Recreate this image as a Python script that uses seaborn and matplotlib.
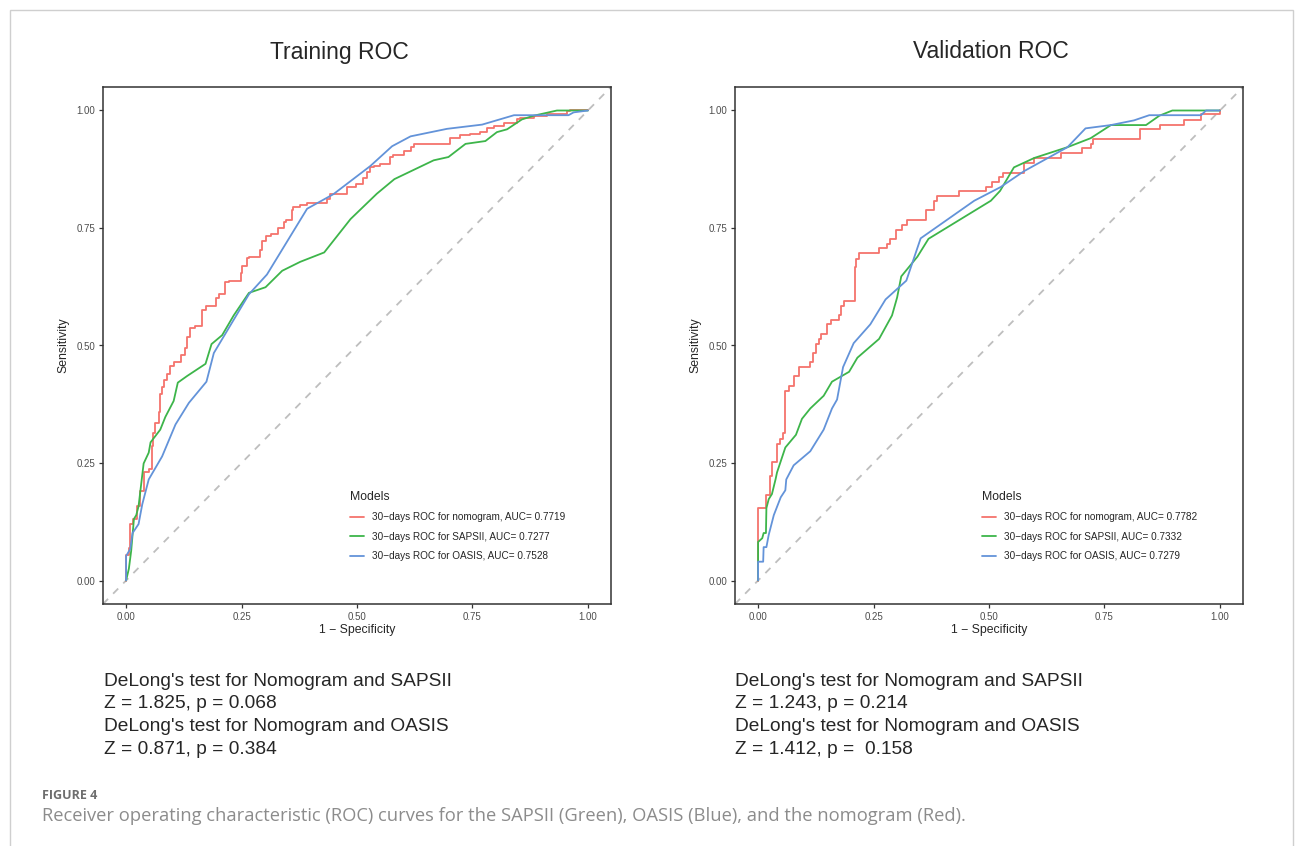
import numpy as np
import pandas as pd
import matplotlib
matplotlib.use("Agg")
import matplotlib.pyplot as plt
import seaborn as sns
from matplotlib.patches import Rectangle

# ---- data ----
models = ["nomogram", "SAPSII", "OASIS"]
train_auc = ["0.7719", "0.7277", "0.7528"]
val_auc = ["0.7782", "0.7332", "0.7279"]

# training, nomogram (stepwise curve)
train_nomogram_fpr = [0, 0.006, 0.009, 0.014, 0.024, 0.031, 0.038, 0.049, 0.056, 0.058,
                      0.063, 0.071, 0.074, 0.077, 0.082, 0.089, 0.096, 0.103, 0.118, 0.128,
                      0.132, 0.139, 0.150, 0.165, 0.174, 0.194, 0.201, 0.215, 0.222, 0.248,
                      0.251, 0.262, 0.266, 0.291, 0.294, 0.303, 0.314, 0.330, 0.341, 0.346,
                      0.359, 0.362, 0.377, 0.392, 0.436, 0.442, 0.457, 0.478, 0.497, 0.514,
                      0.522, 0.529, 0.536, 0.550, 0.572, 0.579, 0.601, 0.616, 0.623, 0.644,
                      0.702, 0.724, 0.745, 0.767, 0.781, 0.796, 0.818, 0.847, 0.854, 0.883,
                      0.911, 0.955, 0.962, 1.0]
train_nomogram_tpr = [0, 0.055, 0.070, 0.120, 0.130, 0.158, 0.190, 0.230, 0.237, 0.287,
                      0.313, 0.336, 0.359, 0.397, 0.412, 0.427, 0.439, 0.457, 0.465, 0.480,
                      0.495, 0.518, 0.537, 0.541, 0.575, 0.583, 0.602, 0.609, 0.636, 0.637,
                      0.655, 0.670, 0.687, 0.689, 0.704, 0.723, 0.733, 0.738, 0.750, 0.763,
                      0.766, 0.788, 0.795, 0.799, 0.803, 0.811, 0.822, 0.823, 0.837, 0.844,
                      0.856, 0.869, 0.879, 0.882, 0.886, 0.902, 0.905, 0.913, 0.922, 0.928,
                      0.929, 0.941, 0.947, 0.951, 0.955, 0.962, 0.966, 0.973, 0.981, 0.985,
                      0.989, 0.992, 0.998, 1.0]

train_sapsii_fpr = [0, 0.006, 0.011, 0.017, 0.022, 0.027, 0.038, 0.049, 0.053, 0.074,
                    0.085, 0.103, 0.112, 0.132, 0.172, 0.185, 0.208, 0.233, 0.266, 0.302,
                    0.338, 0.377, 0.429, 0.486, 0.543, 0.581, 0.666, 0.698, 0.735, 0.778,
                    0.803, 0.825, 0.857, 0.883, 0.933, 1.0]
train_sapsii_tpr = [0, 0.025, 0.063, 0.131, 0.139, 0.158, 0.249, 0.272, 0.294, 0.321,
                    0.348, 0.382, 0.421, 0.435, 0.461, 0.503, 0.522, 0.564, 0.612, 0.624,
                    0.659, 0.678, 0.698, 0.769, 0.823, 0.854, 0.894, 0.901, 0.929, 0.935,
                    0.954, 0.960, 0.981, 0.989, 1.0, 1.0]

train_oasis_fpr = [0, 0, 0.009, 0.014, 0.027, 0.035, 0.049, 0.078, 0.107, 0.136,
                   0.174, 0.190, 0.266, 0.305, 0.392, 0.449, 0.529, 0.576, 0.616, 0.695,
                   0.771, 0.840, 0.958, 0.969, 1.0]
train_oasis_tpr = [0, 0.052, 0.067, 0.101, 0.120, 0.162, 0.215, 0.264, 0.332, 0.378,
                   0.423, 0.484, 0.609, 0.651, 0.791, 0.822, 0.882, 0.924, 0.945, 0.961,
                   0.970, 0.990, 0.990, 0.996, 1.0]

# validation
val_nomogram_fpr = [0, 0.017, 0.025, 0.030, 0.041, 0.047, 0.054, 0.059, 0.067, 0.077,
                    0.088, 0.113, 0.119, 0.126, 0.132, 0.137, 0.150, 0.157, 0.175, 0.179,
                    0.186, 0.209, 0.213, 0.218, 0.262, 0.280, 0.285, 0.298, 0.312, 0.323,
                    0.363, 0.381, 0.388, 0.435, 0.493, 0.507, 0.522, 0.531, 0.576, 0.598,
                    0.655, 0.702, 0.720, 0.726, 0.827, 0.871, 0.923, 0.959, 1.0, 1.0]
val_nomogram_tpr = [0, 0.154, 0.181, 0.222, 0.253, 0.291, 0.302, 0.313, 0.404, 0.414,
                    0.435, 0.455, 0.465, 0.484, 0.503, 0.514, 0.524, 0.545, 0.555, 0.565,
                    0.585, 0.594, 0.666, 0.685, 0.697, 0.708, 0.715, 0.727, 0.746, 0.757,
                    0.767, 0.788, 0.808, 0.818, 0.828, 0.837, 0.848, 0.858, 0.867, 0.888,
                    0.898, 0.909, 0.920, 0.928, 0.939, 0.960, 0.970, 0.980, 0.992, 1.0]

val_sapsii_fpr = [0, 0, 0.009, 0.012, 0.017, 0.018, 0.023, 0.030, 0.038, 0.041,
                  0.059, 0.082, 0.095, 0.113, 0.142, 0.160, 0.197, 0.215, 0.262, 0.290,
                  0.301, 0.310, 0.345, 0.369, 0.504, 0.524, 0.554, 0.598, 0.670, 0.720,
                  0.764, 0.840, 0.869, 0.897, 1.0]
val_sapsii_tpr = [0, 0.082, 0.090, 0.101, 0.101, 0.154, 0.173, 0.184, 0.216, 0.230,
                  0.283, 0.310, 0.344, 0.366, 0.393, 0.423, 0.444, 0.474, 0.514, 0.564,
                  0.602, 0.647, 0.689, 0.727, 0.808, 0.829, 0.879, 0.899, 0.922, 0.941,
                  0.969, 0.969, 0.989, 1.0, 1.0]

val_oasis_fpr = [0, 0, 0.011, 0.012, 0.018, 0.023, 0.034, 0.049, 0.059, 0.061,
                 0.077, 0.113, 0.142, 0.160, 0.171, 0.184, 0.207, 0.243, 0.276, 0.321,
                 0.352, 0.439, 0.468, 0.525, 0.576, 0.670, 0.709, 0.764, 0.814, 0.847,
                 0.959, 0.970, 1.0]
val_oasis_tpr = [0, 0.040, 0.040, 0.071, 0.071, 0.097, 0.139, 0.177, 0.192, 0.215,
                 0.245, 0.275, 0.321, 0.366, 0.385, 0.454, 0.505, 0.545, 0.598, 0.638,
                 0.728, 0.788, 0.808, 0.837, 0.871, 0.922, 0.962, 0.969, 0.979, 0.990,
                 0.990, 1.0, 1.0]

delong_train = ["DeLong's test for Nomogram and SAPSII", "Z = 1.825, p = 0.068",
                "DeLong's test for Nomogram and OASIS", "Z = 0.871, p = 0.384"]
delong_val = ["DeLong's test for Nomogram and SAPSII", "Z = 1.243, p = 0.214",
              "DeLong's test for Nomogram and OASIS", "Z = 1.412, p =  0.158"]

ticks = [0.00, 0.25, 0.50, 0.75, 1.00]
colors = {"nomogram": "#F5736C", "SAPSII": "#3DB54A", "OASIS": "#6393D9"}

sns.set_style("white")
plt.rcParams['font.family'] = ['Liberation Sans', 'DejaVu Sans']


def roc_frame(curves, aucs):
    frames = []
    for name, (fpr, tpr), auc in zip(models, curves, aucs):
        d = pd.DataFrame({"fpr": fpr, "tpr": tpr})
        d["model"] = f"30\u2212days ROC for {name}, AUC= {auc}"
        d["key"] = name
        frames.append(d)
    return pd.concat(frames, ignore_index=True)


def roc_panel(ax, df, title, title_x):
    ax.plot([-0.05, 1.05], [-0.05, 1.05], color="#BEBEBE", lw=1.3, dashes=(4, 4), zorder=1)
    for key in models:
        sub = df[df["key"] == key]
        sns.lineplot(data=sub, x="fpr", y="tpr", ax=ax, sort=False, estimator=None,
                     color=colors[key], lw=1.3, label=sub["model"].iloc[0],
                     drawstyle="steps-pre" if key == "nomogram" else "default")
    ax.set_xlim(-0.05, 1.05)
    ax.set_ylim(-0.05, 1.05)
    ax.set_xticks(ticks)
    ax.set_yticks(ticks)
    ax.set_xticklabels([f"{t:.2f}" for t in ticks])
    ax.set_yticklabels([f"{t:.2f}" for t in ticks])
    ax.tick_params(axis="both", which="both", length=3, width=0.9, color="#333333",
                   labelsize=7, labelcolor="#4D4D4D", pad=2.5, left=True, bottom=True)
    for s in ax.spines.values():
        s.set_visible(True)
        s.set_color("#333333")
        s.set_linewidth(1.1)
    ax.set_xlabel("1 \u2212 Specificity", fontsize=8.8, labelpad=2)
    ax.set_ylabel("Sensitivity", fontsize=8.8, labelpad=5)
    ax.legend(loc="upper left", bbox_to_anchor=(0.476, 0.229), frameon=False,
              title="Models", fontsize=7.2, title_fontsize=8.8, borderpad=0,
              handlelength=1.45, handletextpad=0.8, labelspacing=0.95,
              alignment="left")
    fig.text(title_x, 1 - 52 / 846, title, ha="center", va="center", fontsize=16.5)


fig = plt.figure(figsize=(12.95, 8.46), dpi=100)
W, H = 1295, 846
ax1 = fig.add_axes([103 / W, 1 - 604 / H, 508 / W, 517 / H])
ax2 = fig.add_axes([735 / W, 1 - 604 / H, 508 / W, 517 / H])

train_df = roc_frame([(train_nomogram_fpr, train_nomogram_tpr),
                      (train_sapsii_fpr, train_sapsii_tpr),
                      (train_oasis_fpr, train_oasis_tpr)], train_auc)
val_df = roc_frame([(val_nomogram_fpr, val_nomogram_tpr),
                    (val_sapsii_fpr, val_sapsii_tpr),
                    (val_oasis_fpr, val_oasis_tpr)], val_auc)

roc_panel(ax1, train_df, "Training ROC", 339 / W)
roc_panel(ax2, val_df, "Validation ROC", 991 / W)

# DeLong test text blocks
for x0, lines in [(104, delong_train), (735, delong_val)]:
    for yy, line in zip([681, 703, 726, 749], lines):
        fig.text(x0 / W, 1 - yy / H, line, ha="left", va="center", fontsize=13.8)

# caption
fig.text(42 / W, 1 - 795 / H, "FIGURE 4", ha="left", va="center", fontsize=9,
         fontweight="bold", color="#6E6E6E", family=["Open Sans", "DejaVu Sans"])
fig.text(42 / W, 1 - 816 / H,
         "Receiver operating characteristic (ROC) curves for the SAPSII (Green), "
         "OASIS (Blue), and the nomogram (Red).",
         ha="left", va="center", fontsize=13.2, color="#8C8C8C",
         family=["Open Sans", "DejaVu Sans"])

# light page frame
fig.patches.append(Rectangle((10 / W, -0.02), 1283 / W, 1.02 - 10 / H,
                             transform=fig.transFigure, fill=False,
                             edgecolor="#CFCFCF", lw=1.0))

fig.savefig("out.png", dpi=100)
